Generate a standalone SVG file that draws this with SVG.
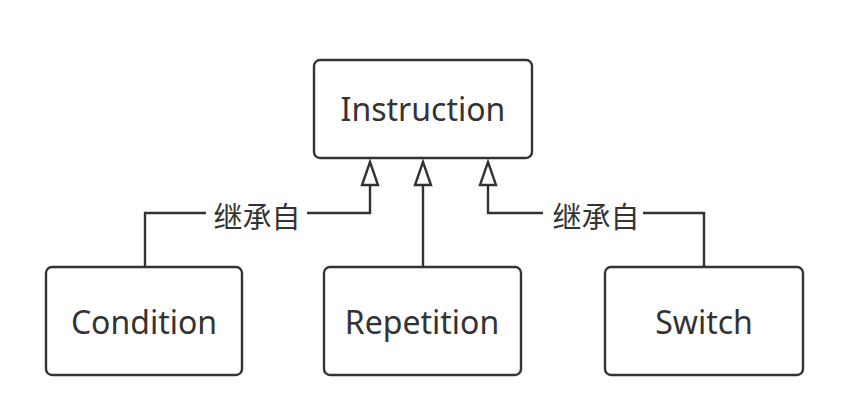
<svg xmlns="http://www.w3.org/2000/svg" width="844" height="414" viewBox="0 0 844 414">
<style>
.box{fill:#fff;stroke:#333;stroke-width:2.4}
.lbl{font-family:"Noto Sans","Liberation Sans",sans-serif;font-size:32px;fill:#333;text-anchor:middle;dominant-baseline:central}
.edge{fill:none;stroke:#333;stroke-width:2.4}
.head{fill:#fff;stroke:#333;stroke-width:2.4}
.elbl{font-family:"Noto Sans CJK SC",sans-serif;font-size:29px;fill:#333;text-anchor:middle;dominant-baseline:central}
</style>
<rect width="844" height="414" fill="#fff"/>
<g id="connectors">
<path class="edge" d="M145 267 V213 H206 M307 213 H370 V186"/>
<path class="edge" d="M423 267 V186"/>
<path class="edge" d="M704 267 V213 H643 M543 213 H488 V186"/>
<path class="head" d="M370 162 L378 185 L362 185 Z"/>
<path class="head" d="M423 162 L431 185 L415 185 Z"/>
<path class="head" d="M488 162 L496 185 L480 185 Z"/>
<text class="elbl" x="257" y="215">继承自</text>
<text class="elbl" x="596" y="215">继承自</text>
</g>
<g id="instruction">
<rect class="box" x="314" y="60" width="218" height="98" rx="6"/>
<text class="lbl" x="423" y="108">Instruction</text>
</g>
<g id="condition">
<rect class="box" x="46" y="267" width="196" height="108" rx="6"/>
<text class="lbl" x="144" y="321">Condition</text>
</g>
<g id="repetition">
<rect class="box" x="324" y="267" width="197" height="108" rx="6"/>
<text class="lbl" x="422" y="321">Repetition</text>
</g>
<g id="switch">
<rect class="box" x="605" y="267" width="198" height="108" rx="6"/>
<text class="lbl" x="704" y="321">Switch</text>
</g>
</svg>
